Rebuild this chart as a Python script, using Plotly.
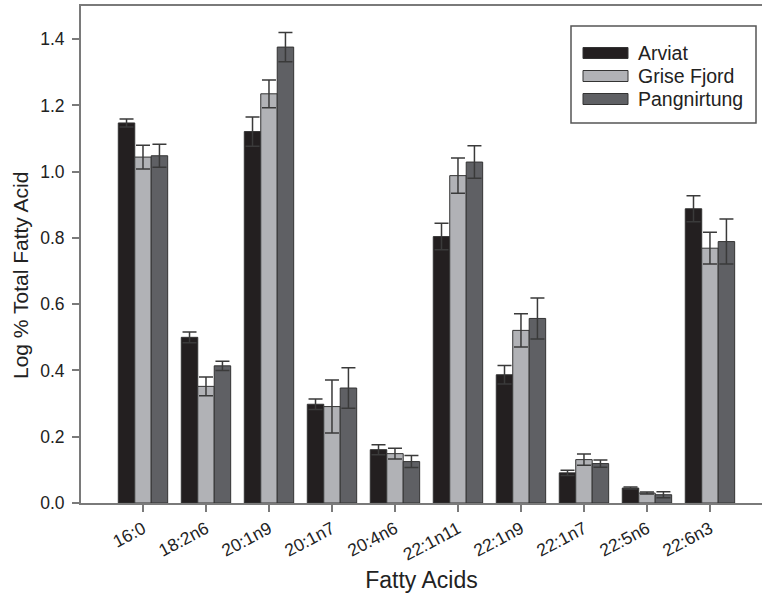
import plotly.graph_objects as go

categories = ["16:0", "18:2n6", "20:1n9", "20:1n7", "20:4n6",
              "22:1n11", "22:1n9", "22:1n7", "22:5n6", "22:6n3"]
series_names = ["Arviat", "Grise Fjord", "Pangnirtung"]

arviat = [1.147, 0.500, 1.121, 0.298, 0.161, 0.804, 0.387, 0.091, 0.045, 0.888]
arviat_err = [0.012, 0.016, 0.044, 0.016, 0.015, 0.040, 0.028, 0.008, 0.003, 0.039]
grise = [1.044, 0.352, 1.235, 0.291, 0.149, 0.988, 0.521, 0.131, 0.030, 0.769]
grise_err = [0.036, 0.028, 0.042, 0.080, 0.016, 0.053, 0.050, 0.017, 0.003, 0.048]
pang = [1.048, 0.414, 1.376, 0.347, 0.125, 1.029, 0.557, 0.119, 0.025, 0.789]
pang_err = [0.035, 0.014, 0.044, 0.061, 0.018, 0.049, 0.062, 0.011, 0.009, 0.068]

values = [arviat, grise, pang]
errors = [arviat_err, grise_err, pang_err]
colors = ["#231f20", "#b1b2b6", "#5f6064"]

W, H = 762, 594
ML, MR, MT, MB = 81, 0, 6, 91
PW, PH = W - ML - MR, H - MT - MB

def px_x(x):
    return (x - ML) / PW

def px_y(y):
    return (H - MB - y) / PH

TXT = "#222222"
AX = "#7a7a7a"
FONT = "Liberation Sans, Arial, sans-serif"

fig = go.Figure()
for name, vals, errs, col in zip(series_names, values, errors, colors):
    fig.add_trace(go.Bar(
        x=list(range(len(categories))), y=vals, name=name,
        marker=dict(color=col, line=dict(color="#333333", width=1)),
        error_y=dict(type="data", array=errs, visible=True,
                     color="#3a3a3a", thickness=1.5, width=7),
        showlegend=False,
    ))

shapes = []
annotations = []
# legend box
shapes.append(dict(type="rect", xref="paper", yref="paper",
                   x0=px_x(571), x1=px_x(756), y0=px_y(123), y1=px_y(26),
                   line=dict(color="#555555", width=1.5), fillcolor="white", layer="above"))
row_y = [53, 76, 99]
for name, col, ry in zip(series_names, colors, row_y):
    shapes.append(dict(type="rect", xref="paper", yref="paper",
                       x0=px_x(583), x1=px_x(628), y0=px_y(ry + 5.5), y1=px_y(ry - 5.5),
                       line=dict(color="#333333", width=1), fillcolor=col, layer="above"))
    annotations.append(dict(xref="paper", yref="paper", x=px_x(636), y=px_y(ry),
                            text=name, showarrow=False, xanchor="left", yanchor="middle",
                            font=dict(size=19.5, color=TXT, family=FONT)))

# y-axis title (placed slightly below centre, as in the original)
annotations.append(dict(xref="paper", yref="paper", x=px_x(20), y=px_y(276),
                        text="Log % Total Fatty Acid", textangle=-90, showarrow=False,
                        xanchor="center", yanchor="middle",
                        font=dict(size=21, color=TXT, family=FONT)))

fig.update_layout(
    width=W, height=H,
    margin=dict(l=ML, r=MR, t=MT, b=MB, pad=0),
    paper_bgcolor="white", plot_bgcolor="white",
    barmode="group", bargap=0.216, bargroupgap=0,
    font=dict(family=FONT, color=TXT),
    shapes=shapes, annotations=annotations,
    xaxis=dict(
        range=[-0.984, 9.826], tickmode="array",
        tickvals=list(range(len(categories))), ticktext=categories,
        tickangle=-28, tickfont=dict(size=17.5, color=TXT),
        showline=True, linecolor=AX, linewidth=2, mirror=True,
        ticks="outside", ticklen=7, tickcolor=AX, tickwidth=1.5,
        showgrid=False, zeroline=False,
        title=dict(text="Fatty Acids", font=dict(size=23, color=TXT), standoff=8),
    ),
    yaxis=dict(
        range=[0, 1.5], tickmode="array",
        tickvals=[0, 0.2, 0.4, 0.6, 0.8, 1.0, 1.2, 1.4],
        ticktext=["0.0", "0.2", "0.4", "0.6", "0.8", "1.0", "1.2", "1.4"],
        tickfont=dict(size=17.5, color=TXT), ticklabelstandoff=4,
        showline=True, linecolor=AX, linewidth=2,
        ticks="outside", ticklen=7, tickcolor=AX, tickwidth=1.5,
        showgrid=False, zeroline=False,
    ),
)

fig.write_html("out.html")
